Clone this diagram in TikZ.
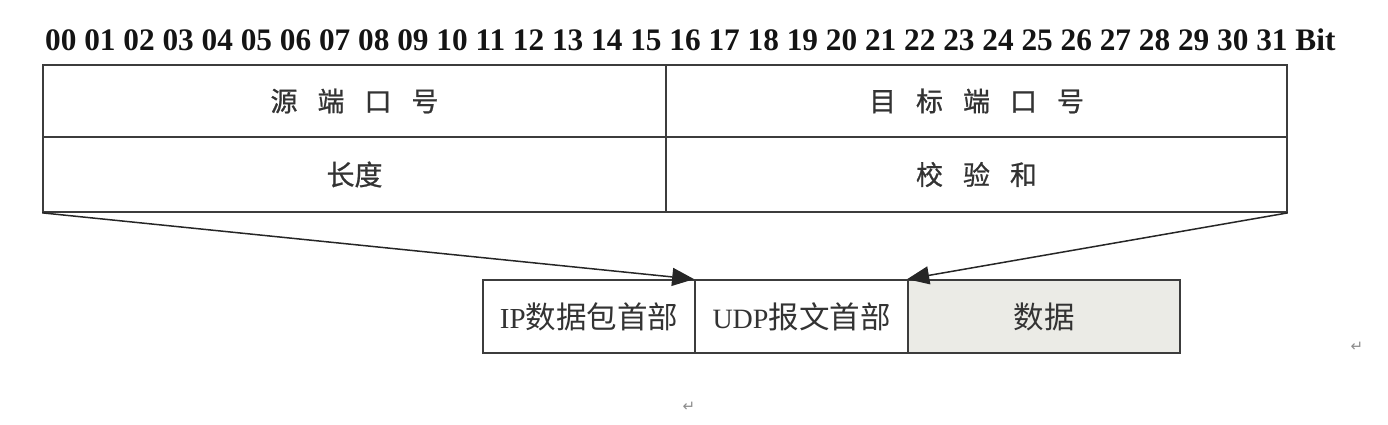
\documentclass[tikz,border=0pt]{standalone}
\usepackage{fontspec}
\setmainfont{Liberation Serif}
\newfontfamily\cjk[FakeBold=0.8]{Noto Sans CJK SC}
\newfontfamily\cjkthin{Noto Sans CJK SC}
\newfontfamily\symf{DejaVu Sans}
\usetikzlibrary{arrows.meta}
\definecolor{linec}{HTML}{3C3C3C}
\definecolor{txtc}{HTML}{333333}
\definecolor{datafill}{HTML}{EBEBE6}
\tikzset{
  cell/.style={draw=linec, line width=1.7pt, minimum width=#1, inner sep=0pt, text=txtc},
  toprow/.style={cell=623pt, minimum height=72pt, font=\cjk\fontsize{27}{27}\selectfont},
  botrow/.style={cell=623pt, minimum height=75pt, font=\cjk\fontsize{27}{27}\selectfont},
  pkt/.style={draw=linec, line width=1.7pt, minimum height=73pt, inner sep=0pt, text=txtc, font=\cjkthin\fontsize{30.5}{30.5}\selectfont},
  conn/.style={draw=black!85, line width=1.5pt, -{Triangle[length=22pt,width=18pt]}},
  pmark/.style={text=black!45, font=\symf\fontsize{15}{15}\selectfont}
}
\newcommand{\cgap}{\hspace{0.74em}}
\begin{document}
\begin{tikzpicture}[x=1pt,y=-1pt]
\useasboundingbox (0,0) rectangle (1388,424);
% bit row
\node[anchor=base west, inner sep=0pt, font=\bfseries\fontsize{31.3}{31.3}\selectfont, text=black!92] (bits) at (45,50)
  {00 01 02 03 04 05 06 07 08 09 10 11 12 13 14 15 16 17 18 19 20 21 22 23 24 25 26 27 28 29 30 31 Bit};
% header table
\node[toprow] (src) at (354.5,101) {源\cgap 端\cgap 口\cgap 号};
\node[toprow, minimum width=621pt] (dst) at (976.5,101) {目\cgap 标\cgap 端\cgap 口\cgap 号};
\node[botrow] (len) at (354.5,174.5) {{\fontsize{28}{28}\selectfont 长度}};
\node[botrow, minimum width=621pt] (chk) at (976.5,174.5) {校\cgap 验\cgap 和};
% packet
\node[pkt, minimum width=212pt] (ip) at (589,316.5) {{\rmfamily\fontsize{29}{29}\selectfont IP}数据包首部};
\node[pkt, minimum width=213pt] (udp) at (801.5,316.5) {{\rmfamily\fontsize{28}{28}\selectfont UDP}报文首部};
\node[pkt, minimum width=272pt, fill=datafill] (data) at (1044,316.5) {数据};
% connectors
\draw[conn] (len.south west) -- (udp.north west);
\draw[conn] (chk.south east) -- (data.north west);
% paragraph marks
\node[pmark] (pm1) at (1357,347) {↵};
\node[pmark] (pm2) at (689,407) {↵};
\end{tikzpicture}
\end{document}
